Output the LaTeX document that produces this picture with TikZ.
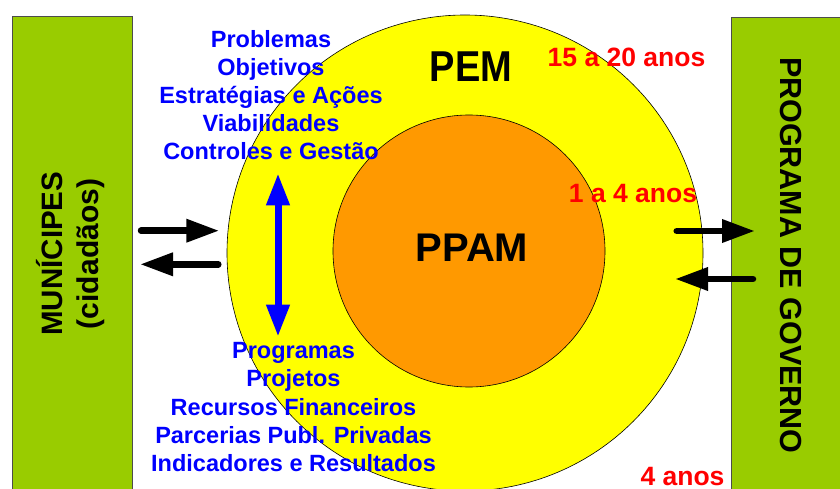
\documentclass[tikz,border=0pt]{standalone}
\usepackage{fontspec}
\setmainfont{Liberation Sans}
\usepackage{graphicx}
\usetikzlibrary{arrows.meta}
\definecolor{boxgreen}{HTML}{99CC00}
\definecolor{ppyellow}{HTML}{FFFF00}
\definecolor{pporange}{HTML}{FF9900}
\definecolor{txtblue}{HTML}{0000FF}
\definecolor{txtred}{HTML}{FF0000}
\begin{document}
\begin{tikzpicture}[x=1pt,y=-1pt,
  sidebox/.style={fill=boxgreen, draw=black!70, line width=0.8pt},
  ring/.style={draw=black, line width=0.6pt},
  bluetxt/.style={anchor=base, inner sep=0pt, text=txtblue, font=\bfseries\fontsize{23.5}{28}\selectfont},
  redtxt/.style={anchor=base, inner sep=0pt, text=txtred, font=\bfseries\fontsize{26.5}{30}\selectfont},
  bigtxt/.style={anchor=base, inner sep=0pt, text=black, font=\bfseries\fontsize{40}{44}\selectfont},
  sidetxt/.style={anchor=base, inner sep=0pt, text=black, font=\bfseries\fontsize{30}{34}\selectfont},
  flow/.style={line width=6.5pt, line cap=round, -{Triangle[length=33pt,width=22pt]}},
  vflow/.style={draw=txtblue, line width=7pt, {Triangle[length=32pt,width=22pt]}-{Triangle[length=32pt,width=22pt]}}
]
\useasboundingbox (0,0) rectangle (840,489);
\clip (0,0) rectangle (840,489);
% side boxes
\draw[sidebox] (12.7,16) rectangle (132,500);
\draw[sidebox] (731,17.7) rectangle (850,500);
% circles
\draw[ring, fill=ppyellow] (465,253) circle[radius=238];
\draw[ring, fill=pporange] (469,251) circle[radius=136];
% big labels
\node[bigtxt] (pem) at (471,81.7) {\scalebox{0.95}[1.08]{PEM}};
\node[bigtxt] (ppam) at (472,261.7) {PPAM};
% red labels
\node[redtxt] (t1520) at (626.5,67) {15 a 20 anos};
\node[redtxt] (t14) at (633,202) {1 a 4 anos};
\node[redtxt] (t4) at (682.5,485) {4 anos};
% blue top list
\node[bluetxt] (b1) at (271,47.7) {Problemas};
\node[bluetxt] (b2) at (271,75.5) {Objetivos};
\node[bluetxt] (b3) at (271,104) {Estratégias e Ações};
\node[bluetxt] (b4) at (271,131.7) {Viabilidades};
\node[bluetxt] (b5) at (271,160) {Controles e Gestão};
% blue bottom list
\node[bluetxt] (c1) at (293.5,358) {Programas};
\node[bluetxt] (c2) at (293.5,386.7) {Projetos};
\node[bluetxt] (c3) at (293.5,415) {Recursos Financeiros};
\node[bluetxt] (c4) at (293.5,443) {Parcerias Publ. Privadas};
\node[bluetxt] (c5) at (293.5,471.7) {Indicadores e Resultados};
% side texts
\node[sidetxt, rotate=90] (mun) at (62.3,253.7) {\fontsize{29.5}{34}\selectfont MUNÍCIPES};
\node[sidetxt, rotate=90] (cid) at (98.7,254) {(cidadãos)};
\node[sidetxt, rotate=-90] (gov) at (780.7,255.4) {\fontsize{30.5}{34}\selectfont PROGRAMA DE GOVERNO};
% arrow endpoints
\coordinate (la1) at (141,230.7);
\coordinate (la2) at (219.3,230.7);
\coordinate (lb1) at (218.3,264.3);
\coordinate (lb2) at (140,264.3);
\coordinate (ra1) at (676.7,231);
\coordinate (ra2) at (755,231);
\coordinate (rb1) at (753,279);
\coordinate (rb2) at (675,279);
\coordinate (vt) at (278,173.3);
\coordinate (vb) at (278,336.7);
\draw[flow] (la1) -- (la2);
\draw[flow] (lb1) -- (lb2);
\draw[flow] (ra1) -- (ra2);
\draw[flow] (rb1) -- (rb2);
\draw[vflow] (vt) -- (vb);
\end{tikzpicture}
\end{document}
